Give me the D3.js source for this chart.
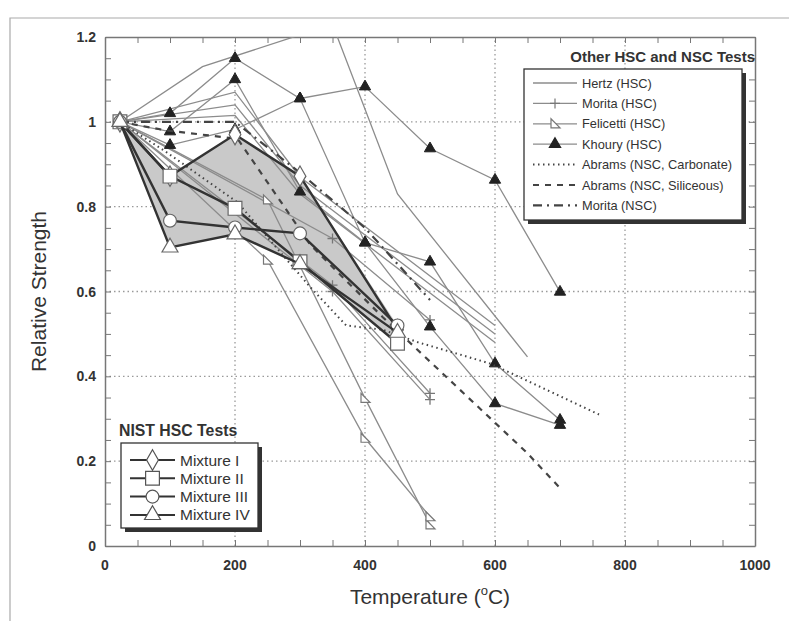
<!DOCTYPE html>
<html><head><meta charset="utf-8">
<script src="https://cdn.jsdelivr.net/npm/d3@7"></script>
<style>
body{margin:0;background:#fff;}
svg{display:block;font-family:"Liberation Sans",Arial,sans-serif;}
</style></head>
<body><svg id="c" width="789" height="621"></svg>
<script>
// ---------- DATA ----------
const xTicks = [0,200,400,600,800,1000];
const yTicks = [0,0.2,0.4,0.6,0.8,1,1.2];
const yTickLabels = ["0","0.2","0.4","0.6","0.8","1","1.2"];

const nistTemps = [23,100,200,300,450];
const mixI   = [1.0,0.872,0.97,0.872,0.51];
const mixII  = [1.0,0.872,0.796,0.67,0.478];
const mixIII = [1.0,0.767,0.751,0.737,0.52];
const mixIV  = [1.0,0.704,0.735,0.665,0.503];

const hertzTemps = [[23,150,350,450,650],[23,200,300,600],[23,200,300,600],[23,200,300,600]];
const hertzVals  = [[1.0,1.13,1.23,0.83,0.446],[1.0,1.07,0.87,0.52],[1.0,1.04,0.85,0.50],[1.0,1.015,0.83,0.48]];

const moritaHTemps = [23,350,500];
const moritaHVals  = [[1.0,0.725,0.533],[1.0,0.615,0.36],[1.0,0.60,0.345]];

const feliTemps = [23,250,400,500];
const feliVals  = [[1.0,0.816,0.348,0.05],[1.0,0.674,0.254,0.069]];

const khouryTemps = [23,100,200,300,400,500,600,700];
const khouryVals  = [
  [1.0,1.02,1.15,1.055,1.083,0.937,0.863,0.599],
  [1.0,0.977,1.10,0.835,0.715,0.67,0.43,0.297],
  [1.0,0.945,0.982,1.055,0.715,0.517,0.336,0.285]
];

const abramsCTemps = [23,93,204,316,371,427,482,538,593,649,760];
const abramsCVals  = [1.0,0.93,0.81,0.61,0.52,0.51,0.48,0.455,0.43,0.39,0.31];
const abramsSTemps = [23,93,204,316,427,538,649,704];
const abramsSVals  = [1.0,0.98,0.96,0.71,0.54,0.38,0.22,0.13];
const moritaNTemps = [23,100,200,300,400,500];
const moritaNVals  = [1.0,1.0,1.0,0.88,0.75,0.58];

const otherLegend = ["Hertz (HSC)","Morita (HSC)","Felicetti (HSC)","Khoury (HSC)","Abrams (NSC, Carbonate)","Abrams (NSC, Siliceous)","Morita (NSC)"];
const nistLegend = ["Mixture I","Mixture II","Mixture III","Mixture IV"];

// ---------- SETUP ----------
const svg = d3.select("#c");
const x = d3.scaleLinear().domain([0,1000]).range([105,755]);
const y = d3.scaleLinear().domain([0,1.2]).range([546,37]);
const thinC = "#8c8c8c", darkC = "#333";

// outer frame
svg.append("path").attr("d","M10,640 L10,18 L800,18").attr("fill","none").attr("stroke","#aaa").attr("stroke-width",1.2);

const defs = svg.append("defs");
defs.append("clipPath").attr("id","clip").append("rect")
  .attr("x",x(0)).attr("y",y(1.2)).attr("width",x(1000)-x(0)).attr("height",y(0)-y(1.2));

// grid
const grid = svg.append("g");
grid.selectAll("line.gx").data([200,400,600,800]).join("line")
  .attr("x1",d=>x(d)).attr("x2",d=>x(d)).attr("y1",y(0)).attr("y2",y(1.2))
  .attr("stroke","#9a9a9a").attr("stroke-width",1.3).attr("stroke-dasharray","1.5,3");
grid.selectAll("line.gy").data([0.2,0.4,0.6,0.8,1.0]).join("line")
  .attr("y1",d=>y(d)).attr("y2",d=>y(d)).attr("x1",x(0)).attr("x2",x(1000))
  .attr("stroke","#9a9a9a").attr("stroke-width",1.3).attr("stroke-dasharray","1.5,3");

// axes with inward ticks
const minorX = d3.range(0,1001,50), minorY = d3.range(0,1.2001,0.05);
function styleAxis(g){ g.select(".domain").attr("stroke","#777").attr("stroke-width",1.5);
  g.selectAll(".tick line").attr("stroke","#777"); }
svg.append("g").attr("transform",`translate(0,${y(0)})`)
  .call(d3.axisBottom(x).tickValues(minorX).tickSizeInner(-6).tickSizeOuter(0).tickFormat(""))
  .call(styleAxis);
svg.append("g").attr("transform",`translate(0,${y(1.2)})`)
  .call(d3.axisTop(x).tickValues(minorX).tickSizeInner(-6).tickSizeOuter(0).tickFormat(""))
  .call(styleAxis);
svg.append("g").attr("transform",`translate(${x(0)},0)`)
  .call(d3.axisLeft(y).tickValues(minorY).tickSizeInner(-6).tickSizeOuter(0).tickFormat(""))
  .call(styleAxis);
svg.append("g").attr("transform",`translate(${x(1000)},0)`)
  .call(d3.axisRight(y).tickValues(minorY).tickSizeInner(-6).tickSizeOuter(0).tickFormat(""))
  .call(styleAxis);

// tick labels
svg.append("g").selectAll("text").data(xTicks).join("text")
  .attr("x",d=>x(d)).attr("y",y(0)+24).attr("text-anchor","middle")
  .attr("font-size",14).attr("font-weight","bold").attr("fill","#333").text(d=>d);
svg.append("g").selectAll("text").data(yTicks).join("text")
  .attr("x",x(0)-9).attr("y",d=>y(d)+5).attr("text-anchor","end")
  .attr("font-size",14).attr("font-weight","bold").attr("fill","#333").text((d,i)=>yTickLabels[i]);

// axis titles
svg.append("text").attr("transform",`translate(46,${(y(0)+y(1.2))/2}) rotate(-90)`)
  .attr("text-anchor","middle").attr("font-size",21).attr("fill","#333").text("Relative Strength");
const xt = svg.append("text").attr("x",(x(0)+x(1000))/2).attr("y",604).attr("text-anchor","middle")
  .attr("font-size",21).attr("fill","#333");
xt.append("tspan").text("Temperature (");
xt.append("tspan").attr("font-size",13).attr("dy",-9).text("o");
xt.append("tspan").attr("dy",9).text("C)");

// ---------- PLOT ----------
const plot = svg.append("g").attr("clip-path","url(#clip)");
const line = d3.line().x(d=>x(d[0])).y(d=>y(d[1]));
const zip = (t,v)=>t.map((tt,i)=>[tt,v[i]]);

// shaded NIST envelope
const allMix = [mixI,mixII,mixIII,mixIV];
const upper = nistTemps.map((t,i)=>[t,d3.max(allMix,m=>m[i])]);
const lower = nistTemps.map((t,i)=>[t,d3.min(allMix,m=>m[i])]).reverse();
plot.append("path").attr("d",line(upper.concat(lower))+"Z").attr("fill","#c9c9c9").attr("stroke","none");

// marker path generators
const sym = (type,size)=>d3.symbol().type(type).size(size)();
const plusPath = "M-5,0H5M0,-5V5";
const feliPath = "M-4,-5L-4,4L5,4Z";

function drawSeries(pts, opt){
  plot.append("path").attr("d",line(pts)).attr("fill","none")
    .attr("stroke",opt.stroke).attr("stroke-width",opt.width)
    .attr("stroke-dasharray",opt.dash||null);
  if(opt.marker){
    plot.append("g").selectAll("path").data(pts).join("path")
      .attr("transform",d=>`translate(${x(d[0])},${y(d[1])})`)
      .attr("d",opt.marker).attr("fill",opt.mfill).attr("stroke",opt.mstroke)
      .attr("stroke-width",opt.mwidth||1);
  }
}

const khouryMarker = sym(d3.symbolTriangle,55);
// other tests (thin)
hertzVals.forEach((v,i)=>drawSeries(zip(hertzTemps[i],v),{stroke:thinC,width:1.3}));
moritaHVals.forEach(v=>drawSeries(zip(moritaHTemps,v),{stroke:thinC,width:1.3,marker:plusPath,mfill:"none",mstroke:"#777",mwidth:1.3}));
feliVals.forEach(v=>drawSeries(zip(feliTemps,v),{stroke:thinC,width:1.3,marker:feliPath,mfill:"#fff",mstroke:"#777",mwidth:1.2}));
khouryVals.forEach(v=>drawSeries(zip(khouryTemps,v),{stroke:thinC,width:1.3,marker:khouryMarker,mfill:"#222",mstroke:"#222"}));
drawSeries(zip(abramsCTemps,abramsCVals),{stroke:"#444",width:2,dash:"1.5,3.5"});
drawSeries(zip(abramsSTemps,abramsSVals),{stroke:"#444",width:2.2,dash:"6,6"});
drawSeries(zip(moritaNTemps,moritaNVals),{stroke:"#444",width:2.2,dash:"9,5,2,5"});

// NIST (thick)
const nistMarkers = [sym(d3.symbolDiamond,120),sym(d3.symbolSquare,190),sym(d3.symbolCircle,130),sym(d3.symbolTriangle,110)];
allMix.forEach((m,i)=>drawSeries(zip(nistTemps,m),{stroke:darkC,width:2.4,marker:nistMarkers[i],mfill:"#fff",mstroke:"#666",mwidth:1.2}));

// ---------- LEGENDS ----------
function legendBox(x0,y0,w,h){
  svg.append("rect").attr("x",x0+4).attr("y",y0+4).attr("width",w).attr("height",h).attr("fill","#333");
  svg.append("rect").attr("x",x0).attr("y",y0).attr("width",w).attr("height",h).attr("fill","#fff").attr("stroke","#333").attr("stroke-width",1.3);
}
// Other legend
svg.append("text").attr("x",755).attr("y",62).attr("text-anchor","end").attr("font-size",15).attr("font-weight","bold").attr("fill","#333").text("Other HSC and NSC Tests");
legendBox(524,69,218,151);
const otherStyles = [
  {stroke:thinC,width:1.3},
  {stroke:thinC,width:1.3,marker:plusPath,mfill:"none",mstroke:"#777"},
  {stroke:thinC,width:1.3,marker:feliPath,mfill:"#fff",mstroke:"#777"},
  {stroke:thinC,width:1.3,marker:khouryMarker,mfill:"#222",mstroke:"#222"},
  {stroke:"#444",width:2,dash:"1.5,3.5"},
  {stroke:"#444",width:2.2,dash:"6,6"},
  {stroke:"#444",width:2.2,dash:"9,5,2,5"}
];
otherLegend.forEach((t,i)=>{
  const yy = 83 + i*20.4, st = otherStyles[i];
  svg.append("line").attr("x1",533).attr("x2",577).attr("y1",yy).attr("y2",yy)
    .attr("stroke",st.stroke).attr("stroke-width",st.width).attr("stroke-dasharray",st.dash||null);
  if(st.marker) svg.append("path").attr("transform",`translate(555,${yy})`).attr("d",st.marker)
    .attr("fill",st.mfill).attr("stroke",st.mstroke).attr("stroke-width",1.2);
  svg.append("text").attr("x",582).attr("y",yy+4.5).attr("font-size",12.8).attr("fill","#333").text(t);
});
// NIST legend
svg.append("text").attr("x",119).attr("y",436).attr("font-size",15.8).attr("font-weight","bold").attr("fill","#333").text("NIST HSC Tests");
legendBox(121,443,137,85);
nistLegend.forEach((t,i)=>{
  const yy = 460 + i*18.3;
  svg.append("line").attr("x1",130).attr("x2",175).attr("y1",yy).attr("y2",yy).attr("stroke",darkC).attr("stroke-width",2);
  svg.append("path").attr("transform",`translate(152.5,${yy})`).attr("d",nistMarkers[i])
    .attr("fill","#fff").attr("stroke","#555").attr("stroke-width",1.2);
  svg.append("text").attr("x",180).attr("y",yy+5.5).attr("font-size",15.5).attr("fill","#333").text(t);
});
</script></body></html>
